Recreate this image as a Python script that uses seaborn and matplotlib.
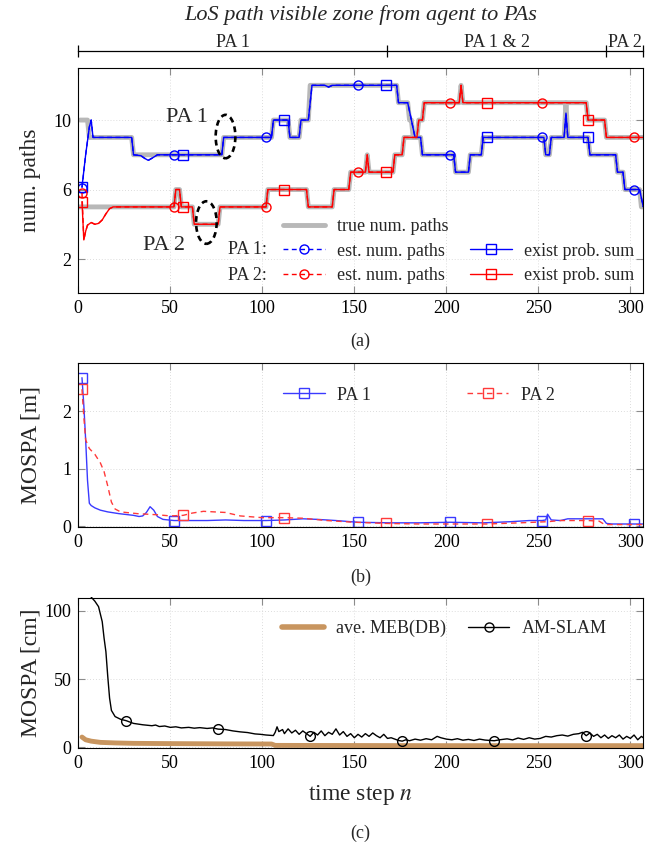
import numpy as np
import pandas as pd
import matplotlib
matplotlib.use('Agg')
import matplotlib.pyplot as plt
import seaborn as sns
from matplotlib.lines import Line2D
from matplotlib.patches import Ellipse

# ---------------- data (time step n, value) ----------------
# (a) number of paths
true_pa1 = [(1, 10), (5, 10), (6, 9), (29, 9), (30, 8), (78, 8), (79, 9), (105, 9), (106, 10),
            (114, 10), (115, 9), (120, 9), (121, 10), (125, 10), (126, 12), (173, 12), (174, 11),
            (179, 11), (180, 10), (181, 10), (182, 9), (186, 9), (187, 8), (204, 8), (205, 7),
            (212, 7), (213, 8), (219, 8), (220, 9), (253, 9), (254, 8), (256, 8), (257, 9),
            (264, 9), (265, 11), (266, 9), (277, 9), (278, 8), (292, 8), (293, 7), (296, 7),
            (297, 6), (305, 6), (306, 5), (307, 5)]
true_pa2 = [(0, 5), (52, 5), (53, 6), (55, 6), (56, 5), (62, 5), (63, 4), (76, 4), (77, 5),
            (102, 5), (103, 6), (124, 6), (125, 5), (138, 5), (139, 6), (147, 6), (148, 7),
            (156, 7), (157, 8), (158, 7), (171, 7), (172, 8), (176, 8), (177, 9), (184, 9),
            (185, 10), (187, 10), (188, 11), (207, 11), (208, 12), (209, 11), (276, 11),
            (277, 10), (286, 10), (287, 9), (307, 9)]
est_pa1 = [(2, 6.1), (4, 8.0), (6, 9.6), (7, 10.0), (8, 9.0), (29, 9.0), (30, 8.0), (34, 7.95),
           (36, 7.8), (38, 7.68), (40, 7.8), (43, 8.0), (52, 8.0), (57, 8.0), (78, 8.0), (79, 9.0),
           (102, 9.0), (105, 9.0), (106, 10.0), (112, 10.0), (114, 10.0), (115, 9.0), (120, 9.0),
           (121, 10.0), (125, 10.0), (127, 12.0), (134, 12.0), (136, 11.9), (138, 12.0),
           (152, 12.0), (167, 12.0), (173, 12.0), (174, 11.0), (179, 11.0), (182, 9.5), (183, 9.0),
           (186, 9.0), (187, 8.0), (202, 8.0), (204, 8.0), (205, 7.0), (212, 7.0), (213, 8.0),
           (219, 8.0), (220, 9.0), (222, 9.0), (252, 9.0), (253, 9.0), (254, 8.0), (256, 8.0),
           (257, 9.0), (264, 9.0), (265, 10.4), (266, 9.0), (277, 9.0), (278, 8.0), (292, 8.0),
           (293, 7.0), (296, 7.0), (297, 6.0), (302, 6.0), (305, 6.0), (307, 5.0)]
est_pa2 = [(2, 5.8), (3, 3.1), (4, 3.6), (5, 3.95), (7, 4.1), (9, 4.0), (11, 4.05), (13, 4.25),
           (15, 4.6), (17, 4.9), (19, 5.0), (52, 5.0), (53, 6.0), (55, 6.0), (56, 5.0), (57, 5.0),
           (62, 5.0), (63, 4.0), (76, 4.0), (77, 5.0), (102, 5.0), (103, 6.0), (112, 6.0),
           (124, 6.0), (125, 5.0), (138, 5.0), (139, 6.0), (147, 6.0), (148, 7.0), (152, 7.0),
           (156, 7.0), (157, 8.0), (158, 7.0), (167, 7.0), (171, 7.0), (172, 8.0), (176, 8.0),
           (177, 9.0), (184, 9.0), (185, 10.0), (187, 10.0), (188, 11.0), (202, 11.0), (207, 11.0),
           (208, 12.0), (209, 11.0), (222, 11.0), (252, 11.0), (276, 11.0), (277, 10.0),
           (286, 10.0), (287, 9.0), (302, 9.0), (307, 9.0)]
# existence probability sums follow the estimates except at the first step
exist_pa1 = [(2, 6.15)] + est_pa1[1:]
exist_pa2 = [(2, 5.3)] + est_pa2[1:]
est_marks = [2, 52, 102, 152, 202, 252, 302]
exist_marks = [2, 57, 112, 167, 222, 277]

# (b) MOSPA [m]
mospa_pa1 = [(2, 2.58), (3, 2.1), (4, 1.5), (5, 0.8), (6, 0.4), (7, 0.36), (9, 0.32), (12, 0.28),
             (16, 0.25), (22, 0.22), (30, 0.19), (33, 0.17), (35, 0.18), (37, 0.24), (39, 0.34),
             (41, 0.28), (43, 0.17), (46, 0.12), (52, 0.1), (70, 0.1), (80, 0.11), (90, 0.1),
             (102, 0.1), (112, 0.11), (122, 0.13), (130, 0.12), (140, 0.1), (152, 0.07),
             (170, 0.06), (185, 0.06), (202, 0.07), (220, 0.06), (235, 0.08), (245, 0.1),
             (252, 0.1), (254, 0.11), (255, 0.21), (257, 0.11), (262, 0.1), (266, 0.13),
             (285, 0.13), (287, 0.05), (290, 0.04), (302, 0.04), (307, 0.04)]
mospa_pa2 = [(2, 2.38), (3, 1.9), (4, 1.5), (6, 1.35), (9, 1.25), (12, 1.1), (14, 0.95), (16, 0.7),
             (18, 0.42), (20, 0.3), (23, 0.25), (32, 0.22), (43, 0.2), (50, 0.18), (57, 0.19),
             (62, 0.23), (68, 0.26), (80, 0.24), (88, 0.18), (100, 0.15), (112, 0.15), (122, 0.14),
             (135, 0.1), (150, 0.07), (167, 0.05), (185, 0.04), (205, 0.04), (222, 0.04),
             (240, 0.06), (255, 0.08), (262, 0.1), (277, 0.1), (283, 0.09), (286, 0.03), (307, 0.03)]
mospa1_marks = [2, 52, 102, 152, 202, 252, 302]
mospa2_marks = [2, 57, 112, 167, 222, 277]

# (c) agent MOSPA [cm]
am_slam = [(4, 118), (7, 110), (9, 107), (11, 103), (13, 92), (14, 80), (15, 70), (16, 52), (17, 36),
           (18, 27), (20, 22.5), (23, 20.5), (26, 19.5), (30, 17.5), (35, 16.5), (40, 15.8),
           (42, 16.3), (44, 15.2), (47, 15.6), (50, 14.6), (53, 15.0), (56, 14.2), (60, 14.6),
           (63, 14.0), (66, 14.4), (70, 13.8), (73, 14.2), (76, 13.3), (80, 13.0), (84, 12.0),
           (88, 11.3), (92, 10.8), (96, 9.8), (99, 9.5), (102, 9.0), (104, 8.8), (106, 8.6),
           (107, 11.0), (108, 15.0), (109, 11.5), (111, 13.0), (112, 10.0), (114, 13.5),
           (116, 10.5), (118, 12.5), (120, 9.5), (122, 12.0), (124, 10.0), (126, 8.0), (128, 11.0),
           (130, 9.0), (132, 12.0), (134, 8.5), (136, 11.0), (138, 9.5), (140, 13.5), (142, 9.0),
           (144, 11.5), (146, 8.0), (148, 10.0), (150, 7.0), (152, 9.5), (154, 7.5), (156, 10.0),
           (158, 8.0), (160, 10.5), (162, 8.5), (164, 7.0), (166, 9.5), (168, 6.5), (170, 7.0),
           (172, 6.0), (174, 5.0), (176, 4.5), (178, 5.5), (180, 4.8), (183, 6.0), (186, 5.2),
           (189, 6.3), (192, 5.5), (195, 8.0), (197, 7.0), (200, 6.0), (203, 5.5), (206, 6.3),
           (209, 5.2), (212, 5.8), (215, 5.0), (218, 6.0), (221, 5.3), (224, 5.0), (226, 4.8),
           (229, 5.5), (233, 6.2), (236, 5.4), (239, 6.8), (242, 5.8), (245, 7.0), (248, 6.0),
           (251, 6.5), (254, 8.0), (257, 7.5), (260, 8.5), (263, 9.0), (266, 8.2), (269, 9.5),
           (272, 10.0), (274, 11.0), (276, 8.5), (278, 10.5), (280, 8.0), (282, 9.5), (284, 7.0),
           (286, 9.0), (288, 6.5), (290, 8.5), (292, 7.0), (294, 9.0), (296, 6.0), (298, 8.0),
           (300, 6.5), (302, 9.0), (304, 5.5), (306, 8.0), (307, 7.0)]
meb_db = [(2, 7.5), (4, 5.5), (7, 4.5), (12, 3.6), (20, 3.2), (30, 2.9), (50, 2.7), (80, 2.5),
          (105, 2.4), (107, 1.4), (150, 1.3), (200, 1.2), (250, 1.2), (307, 1.2)]
am_marks = [26, 76, 126, 176, 226, 276]

zone_edges = [0, 168, 287, 306.7]
zone_labels = ['PA 1', 'PA 1 & 2', 'PA 2']

# ---------------- style ----------------
sns.set_theme(style='ticks')
plt.rcParams['font.family'] = ['Liberation Serif', 'DejaVu Serif']
plt.rcParams['mathtext.fontset'] = 'stix'

W, H = 659, 846
fig = plt.figure(figsize=(W / 100, H / 100), dpi=100)
XMAX = 306.7
FS = 13


def box(top, bottom, left=78.3, right=642.7):
    return [left / W, 1 - bottom / H, (right - left) / W, (bottom - top) / H]


def ftext(x, y, s, **kw):
    kw.setdefault('ha', 'center')
    kw.setdefault('va', 'center')
    fig.text(x / W, 1 - y / H, s, **kw)


def draw(ax, pts, marks=None, **kw):
    n, v = zip(*pts)
    df = pd.DataFrame({'n': n, 'v': v})
    if marks is not None:
        kw['markevery'] = [i for i, x in enumerate(n) if x in marks]
        kw.setdefault('markerfacecolor', 'none')
        kw.setdefault('markeredgecolor', kw.get('color'))
        kw.setdefault('markeredgewidth', 1.0)
        kw.setdefault('markersize', 6.5)
    sns.lineplot(data=df, x='n', y='v', ax=ax, estimator=None, sort=False,
                 legend=False, **kw)


def style(ax, ylim, yticks, ylabel):
    ax.set_xlim(0, XMAX)
    ax.set_ylim(*ylim)
    ax.set_xticks(range(0, 301, 50))
    ax.set_yticks(yticks)
    ax.grid(True, linestyle=(0, (1, 2.5)), color='0.82', linewidth=0.6)
    ax.tick_params(direction='in', top=True, right=True, length=5, width=0.8,
                   color='0.55', labelsize=FS, pad=5, labelcolor='black')
    for s in ax.spines.values():
        s.set_linewidth(0.8)
        s.set_color('black')
    ax.set_xlabel('')
    ax.set_ylabel(ylabel, fontsize=17)
    ax.yaxis.set_label_coords(-0.066, 0.5)


def leg(ax, handles, labels, x, y, ncol, colsp):
    ax.legend(handles, labels, ncol=ncol, loc='upper left',
              bbox_to_anchor=(x / W, 1 - y / H), bbox_transform=fig.transFigure,
              frameon=False, fontsize=FS, handlelength=2.3, handletextpad=0.7,
              columnspacing=colsp, labelspacing=0.42, borderpad=0, borderaxespad=0)


dash = (0, (3.5, 2.5))

# ---------------- (a) ----------------
ax_a = fig.add_axes(box(68.3, 292.7))
draw(ax_a, true_pa1, color='0.72', linewidth=3.5)
draw(ax_a, true_pa2, color='0.72', linewidth=3.5)
draw(ax_a, exist_pa1, exist_marks, color='blue', linewidth=1.0, marker='s')
draw(ax_a, est_pa1, est_marks, color='blue', linewidth=1.0, linestyle=dash, marker='o')
draw(ax_a, exist_pa2, exist_marks, color='red', linewidth=1.0, marker='s')
draw(ax_a, est_pa2, est_marks, color='red', linewidth=1.0, linestyle=dash, marker='o')
style(ax_a, (0.06, 12.98), [2, 6, 10], 'num. paths')

for cx, cy, w, h in [(80, 9.05, 10.7, 2.5), (69.6, 4.1, 11.2, 2.45)]:
    ax_a.add_patch(Ellipse((cx, cy), w, h, fill=False, edgecolor='black',
                           linewidth=1.9, linestyle=(0, (2.2, 1.6)), zorder=5))
ax_a.text(59.3, 10.15, 'PA 1', fontsize=16, ha='center', va='center')
ax_a.text(46.7, 2.8, 'PA 2', fontsize=16, ha='center', va='center')

mk = dict(markerfacecolor='none', markersize=6.5, markeredgewidth=1.0, linewidth=1.0)
h_true = Line2D([], [], color='0.72', linewidth=3.5)
h_e1 = Line2D([], [], color='blue', linestyle=dash, marker='o', markeredgecolor='blue', **mk)
h_e2 = Line2D([], [], color='red', linestyle=dash, marker='o', markeredgecolor='red', **mk)
h_x1 = Line2D([], [], color='blue', marker='s', markeredgecolor='blue', **mk)
h_x2 = Line2D([], [], color='red', marker='s', markeredgecolor='red', **mk)
h_blank = Line2D([], [], linestyle='none')
leg(ax_a, [h_true, h_e1, h_e2, h_blank, h_x1, h_x2],
    ['true num. paths', 'est. num. paths', 'est. num. paths', '', 'exist prob. sum',
     'exist prob. sum'], 283, 218, 2, 1.2)
ftext(228, 250, 'PA 1:', ha='left', fontsize=FS)
ftext(228, 275, 'PA 2:', ha='left', fontsize=FS)

# zone axis above panel (a)
sec = ax_a.secondary_xaxis((292.7 - 51) / (292.7 - 68.3))
sec.set_xticks(zone_edges)
sec.set_xticklabels([])
sec.tick_params(which='major', direction='inout', length=9, width=0.9, color='black')
centers = [(a + b) / 2 for a, b in zip(zone_edges[:-1], zone_edges[1:])]
sec.set_xticks(centers, labels=zone_labels, minor=True)
sec.tick_params(which='minor', length=0, labelsize=FS, pad=0)
for s in sec.spines.values():
    s.set_linewidth(0.9)
    s.set_color('black')

ftext(360.5, 15, 'LoS path visible zone from agent to PAs', style='italic', fontsize=16)
ftext(360.5, 341, '(a)', fontsize=FS)

# ---------------- (b) ----------------
ax_b = fig.add_axes(box(363.3, 526.7))
draw(ax_b, mospa_pa1, mospa1_marks, color='#3a3aff', linewidth=1.0, marker='s')
draw(ax_b, mospa_pa2, mospa2_marks, color='#ff3a3a', linewidth=1.0, linestyle=(0, (4, 3)),
     marker='s')
style(ax_b, (-0.007, 2.83), [0, 1, 2], 'MOSPA [m]')
h_b1 = Line2D([], [], color='#3a3aff', marker='s', markeredgecolor='#3a3aff', **mk)
h_b2 = Line2D([], [], color='#ff3a3a', linestyle=(0, (4, 3)), marker='s',
              markeredgecolor='#ff3a3a', **mk)
leg(ax_b, [h_b1, h_b2], ['PA 1', 'PA 2'], 283, 386.6, 2, 5.3)
ftext(360.5, 577, '(b)', fontsize=FS)

# ---------------- (c) ----------------
ax_c = fig.add_axes(box(597.5, 748.2))
tan = '#c8955f'
draw(ax_c, meb_db, color=tan, linewidth=3.5)
draw(ax_c, am_slam, am_marks, color='black', linewidth=1.0, marker='o', markersize=7)
style(ax_c, (-0.66, 109.7), [0, 50, 100], 'MOSPA [cm]')
h_c1 = Line2D([], [], color=tan, linewidth=4)
h_c2 = Line2D([], [], color='black', marker='o', markeredgecolor='black', **mk)
leg(ax_c, [h_c1, h_c2], ['ave. MEB(DB)', 'AM-SLAM'], 282, 619.6, 2, 1.2)
ftext(360.5, 795, 'time step $n$', fontsize=17)
ftext(360.5, 833, '(c)', fontsize=FS)

fig.savefig('out.png', dpi=100)
